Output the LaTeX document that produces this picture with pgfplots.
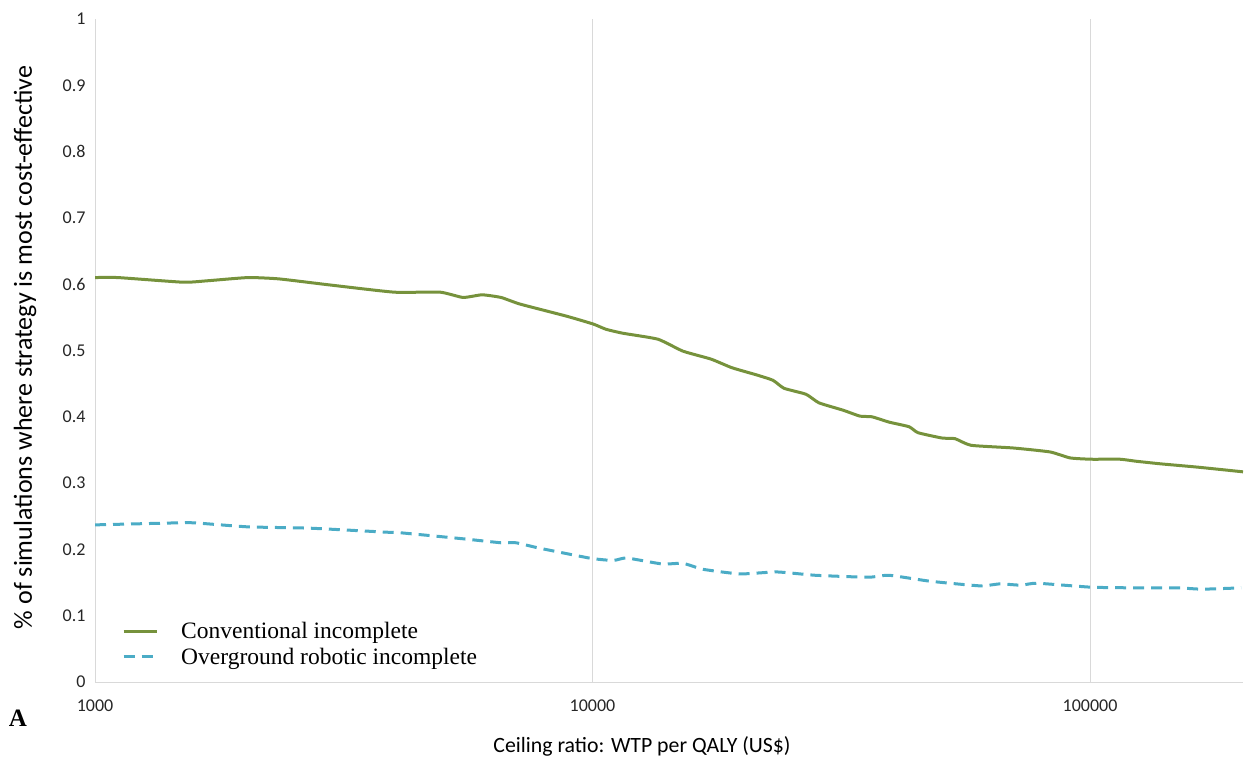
\documentclass[border=0pt]{standalone}
\usepackage{fontspec}
\setmainfont{Carlito}
\newfontfamily\tnr{Liberation Serif}
\usepackage{pgfplots}
\pgfplotsset{compat=1.18}
\definecolor{cgreen}{HTML}{76923C}
\definecolor{cblue}{HTML}{4BACC6}
\definecolor{cgrid}{HTML}{D9D9D9}
\begin{document}
\begin{tikzpicture}
\begin{axis}[
  name=ax,
  xmode=log, log basis x=10,
  scale only axis, width=1148pt, height=663pt,
  xmin=1000, xmax=203000, ymin=0, ymax=1,
  axis lines*=left,
  axis line style={cgrid, line width=1pt},
  xtick={1000,10000,100000}, xticklabels={1000,10000,100000},
  minor xtick={},
  ytick={0,0.1,0.2,0.3,0.4,0.5,0.6,0.7,0.8,0.9,1},
  yticklabels={0,0.1,0.2,0.3,0.4,0.5,0.6,0.7,0.8,0.9,1},
  major tick length=0pt, minor tick length=0pt,
  xmajorgrids, grid style={cgrid, line width=1pt},
  tick label style={font=\fontsize{18}{18}\selectfont, text=black!85},
  xticklabel style={yshift=-14pt},
  yticklabel style={xshift=-6pt},
  every axis y label/.style={at={(rel axis cs:0,0.5)}, xshift=-70pt, yshift=3pt, rotate=90, anchor=center, font=\fontsize{26}{26}\selectfont},
  every axis x label/.style={at={(rel axis cs:0.5,0)}, yshift=-64pt, xshift=-27pt, anchor=center, font=\fontsize{21.8}{21.8}\selectfont},
  ylabel={\% of simulations where strategy is most cost-effective},
  xlabel={Ceiling ratio: WTP per QALY (US\$)},
  legend style={draw=none, fill=none, at={(rel axis cs:0,0)}, anchor=south west, xshift=24pt, yshift=12pt, font=\tnr\fontsize{23.5}{27}\selectfont, row sep=4pt, column sep=21pt},
  legend cell align=left,
  legend image code/.code={\draw[#1] (0pt,0pt) -- (33pt,0pt);},
]
\addplot[cgreen, line width=3pt, smooth, tension=0.3] coordinates {
(1000,0.610) (1112,0.610) (1503,0.603) (1672,0.605) (2030,0.610) (2343,0.608)
(2954,0.599) (3991,0.588) (4938,0.588) (5492,0.580) (5997,0.584) (6549,0.580)
(7151,0.570) (8846,0.552) (10023,0.540) (10645,0.532) (11516,0.526) (13540,0.517)
(15200,0.499) (17310,0.487) (19070,0.474) (21410,0.463) (23060,0.455) (24260,0.443)
(26860,0.434) (28530,0.421) (31880,0.410) (34490,0.401) (36460,0.400) (39450,0.392)
(43280,0.385) (45110,0.376) (50410,0.368) (53540,0.367) (57660,0.357) (70000,0.353)
(83100,0.347) (91160,0.338) (100460,0.336) (114900,0.336) (123700,0.333) (138900,0.329)
(164900,0.324) (203000,0.317)
};
\addlegendentry{Conventional incomplete}
\addplot[cblue, line width=3pt, dash pattern=on 11pt off 7pt, smooth, tension=0.3] coordinates {
(1000,0.237) (1455,0.240) (1589,0.240) (2030,0.234) (2705,0.232) (3846,0.226)
(4122,0.225) (5492,0.216) (6549,0.210) (7020,0.210) (7808,0.202) (9840,0.187)
(10645,0.184) (11150,0.184) (11730,0.187) (13800,0.178) (15200,0.179) (16680,0.170)
(19800,0.163) (23490,0.166) (28010,0.161) (35800,0.158) (39450,0.161) (47700,0.152)
(60100,0.145) (65940,0.148) (72670,0.146) (78240,0.149) (100460,0.143) (123700,0.142)
(150300,0.142) (168000,0.140) (201200,0.142)
};
\addlegendentry{Overground robotic incomplete}
\end{axis}
\node[font=\tnr\bfseries\fontsize{25}{25}\selectfont] at ([shift={(-77pt,-36pt)}]ax.south west) {A};
\pgfresetboundingbox
\path ([shift={(-95pt,-79pt)}]ax.south west) rectangle ([shift={(4pt,19pt)}]ax.north east);
\end{tikzpicture}
\end{document}
